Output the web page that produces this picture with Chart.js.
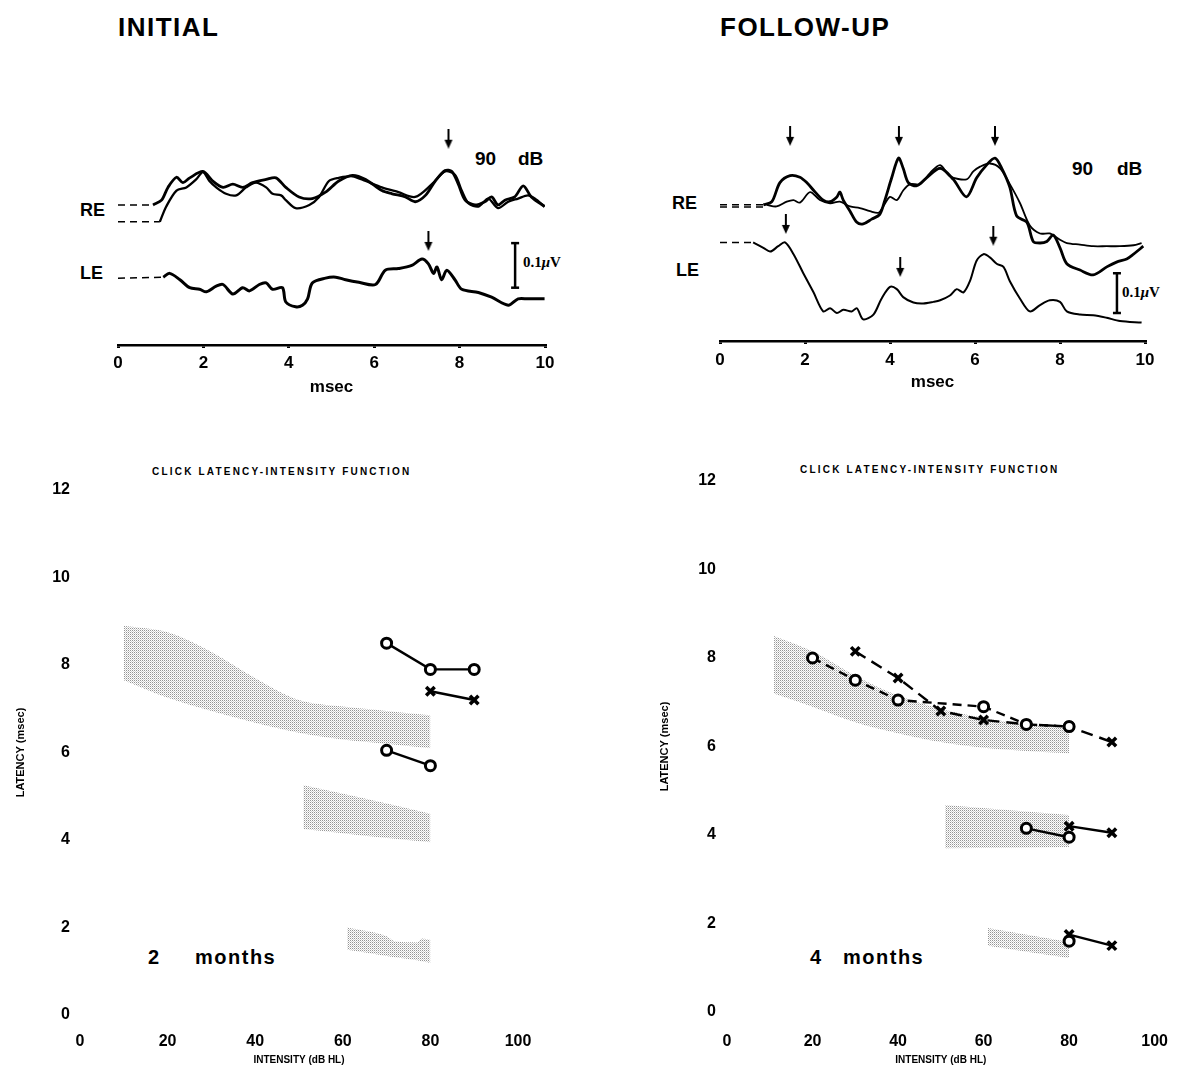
<!DOCTYPE html>
<html>
<head>
<meta charset="utf-8">
<script src="https://cdn.jsdelivr.net/npm/chart.js@4.4.0/dist/chart.umd.min.js"></script>
<style>
  body { margin: 0; width: 1188px; height: 1067px; position: relative; overflow: hidden; background: #fff;
         font-family: "Liberation Sans", Arial, sans-serif; font-weight: bold; color: #000; }
  canvas { position: absolute; }
  .t { position: absolute; white-space: pre; line-height: 1; transform: translateY(-50%); }
  .uv { font-family: "Liberation Serif", serif; font-size: 15px; }
</style>
</head>
<body>

<div class="t" style="left:118px;top:27px;font-size:26px;letter-spacing:1.5px">INITIAL</div>
<div class="t" style="left:720px;top:27px;font-size:26px;letter-spacing:1.5px">FOLLOW-UP</div>

<div class="t" style="left:475px;top:158px;font-size:19px">90</div>
<div class="t" style="left:518px;top:158px;font-size:19px">dB</div>
<div class="t" style="left:1072px;top:168px;font-size:19px">90</div>
<div class="t" style="left:1117px;top:168px;font-size:19px">dB</div>

<div class="t" style="left:80px;top:210px;font-size:18px">RE</div>
<div class="t" style="left:80px;top:273px;font-size:18px">LE</div>
<div class="t" style="left:672px;top:203px;font-size:18px">RE</div>
<div class="t" style="left:676px;top:270px;font-size:18px">LE</div>

<div class="t uv" style="left:523px;top:262px">0.1<i>μ</i>V</div>
<div class="t uv" style="left:1122px;top:292px">0.1<i>μ</i>V</div>

<div class="t" style="left:152px;top:472px;font-size:10px;letter-spacing:2.2px">CLICK LATENCY-INTENSITY FUNCTION</div>
<div class="t" style="left:800px;top:470px;font-size:10px;letter-spacing:2.2px">CLICK LATENCY-INTENSITY FUNCTION</div>

<div class="t" style="left:148px;top:957px;font-size:20px">2</div>
<div class="t" style="left:195px;top:957px;font-size:20px;letter-spacing:1.5px">months</div>
<div class="t" style="left:810px;top:957px;font-size:20px">4</div>
<div class="t" style="left:843px;top:957px;font-size:20px;letter-spacing:1.5px">months</div>

<canvas id="waveInit" width="465" height="300" style="left:100px;top:100px"></canvas>
<canvas id="waveFollow" width="465" height="300" style="left:700px;top:100px"></canvas>
<canvas id="latInit" width="560" height="617" style="left:0px;top:450px"></canvas>
<canvas id="latFollow" width="548" height="617" style="left:640px;top:450px"></canvas>

<script>
// ---- waveforms: time in msec, amplitude in arbitrary units (~1 nV) ----
// initial, right ear, trace A
const iReA_t = [0.82,1.02,1.17,1.37,1.52,1.68,1.99,2.22,2.46,2.69,2.92,3.15,3.47,3.70,3.93,4.24,4.55,4.86,5.17,5.49,5.80,6.18,6.42,6.73,6.96,7.20,7.43,7.66,7.82,7.97,8.13,8.36,8.59,8.75,8.90,9.06,9.29,9.49,9.68,9.99];
const iReA_v = [440,455,495,527,510,525,545,515,495,505,495,510,520,525,495,465,460,480,515,533,520,485,475,465,450,470,515,548,545,505,455,440,450,465,440,455,465,500,465,435];
// initial, right ear, trace B
const iReB_t = [0.98,1.13,1.37,1.60,1.83,1.99,2.14,2.30,2.53,2.77,3.00,3.23,3.47,3.62,3.82,3.93,4.16,4.48,4.71,4.94,5.17,5.49,5.80,6.18,6.57,6.96,7.35,7.66,7.89,8.05,8.21,8.44,8.67,8.90,9.14,9.37,9.60,9.76,9.99];
const iReB_v = [387,435,485,495,520,543,515,495,475,470,495,510,495,475,470,455,430,440,465,515,525,530,515,495,480,465,505,545,535,485,445,435,460,430,450,460,470,460,435];
// initial, left ear
const iLe_t = [1.06,1.21,1.45,1.68,1.91,2.07,2.30,2.46,2.69,2.92,3.08,3.31,3.47,3.62,3.85,3.93,4.16,4.32,4.44,4.55,4.86,5.10,5.33,5.64,6.03,6.26,6.57,6.88,7.12,7.27,7.39,7.47,7.58,7.70,7.89,8.05,8.44,8.75,9.14,9.37,9.60,9.99];
const iLe_v = [213,225,205,180,175,167,185,190,160,180,170,190,195,175,180,135,120,125,145,195,210,213,205,197,190,235,240,250,270,255,225,245,205,235,205,175,165,150,125,145,145,145];
const iBase_t = [0, 0.82, 0, 0.98, 0, 1.06];          // pre-stimulus dashed baselines (start/end)
const iBase_v = [440, 440, 387, 387, 210, 213];
const iArrow_t = [7.74, 7.27];
const iArrow_v = [648, 327];
const iBar_t = [9.3, 9.3];
const iBar_v = [180, 320];

// follow-up, right ear, trace C (thick)
const fReC_t = [1.02,1.22,1.41,1.65,1.88,2.04,2.24,2.43,2.59,2.75,2.82,2.90,3.06,3.22,3.37,3.57,3.76,3.88,4.04,4.20,4.31,4.43,4.63,4.86,5.18,5.49,5.80,6.04,6.27,6.47,6.63,6.82,6.98,7.22,7.37,7.53,7.69,7.84,8.00,8.16,8.47,8.78,9.10,9.33,9.57,9.73,9.96];
const fReC_v = [428,438,498,520,515,498,468,443,438,453,468,443,408,373,368,383,398,443,513,575,543,498,488,513,543,508,453,513,553,575,543,483,393,373,313,308,313,333,293,243,223,208,233,248,258,273,298];
// follow-up, right ear, trace D (thin)
const fReD_t = [1.10,1.33,1.57,1.73,1.88,2.12,2.35,2.59,2.82,3.06,3.29,3.53,3.73,3.84,4.00,4.16,4.31,4.47,4.71,4.94,5.18,5.41,5.80,5.96,6.12,6.35,6.59,6.82,7.06,7.29,7.53,7.76,8.00,8.16,8.47,8.78,9.10,9.41,9.73,9.92];
const fReD_v = [428,423,438,443,435,468,443,433,438,423,418,408,403,423,453,443,473,493,493,528,553,518,508,533,548,558,543,493,433,363,338,338,318,308,303,298,298,298,301,308];
// follow-up, left ear
const fLe_t = [0.78,1.02,1.18,1.37,1.53,1.73,1.96,2.20,2.43,2.59,2.75,2.90,3.10,3.22,3.37,3.61,3.80,4.00,4.16,4.31,4.55,4.78,5.02,5.18,5.41,5.57,5.73,5.88,6.04,6.20,6.35,6.51,6.67,6.82,7.06,7.29,7.53,7.76,8.00,8.16,8.47,8.78,9.10,9.41,9.92];
const fLe_v = [310,293,281,298,310,273,213,153,93,103,88,98,93,103,68,83,133,170,163,138,121,118,123,128,143,163,153,188,253,273,263,243,233,188,133,93,113,128,123,93,83,81,73,63,58];
const fBase_t = [0, 1.02, 0, 1.10, 0, 0.78];
const fBase_v = [428, 428, 421, 421, 310, 310];
const fArrow_t = [1.65, 4.21, 6.47, 1.55, 4.24, 6.43];
const fArrow_v = [645, 645, 645, 368, 233, 331];
const fBar_t = [9.34, 9.34];
const fBar_v = [88, 213];

// ---- latency-intensity functions (dB HL vs msec) ----
const iCircHi_x = [70, 80, 90], iCircHi_y = [8.5, 7.9, 7.9];
const iCrossHi_x = [80, 90],    iCrossHi_y = [7.4, 7.2];
const iCircLo_x = [70, 80],     iCircLo_y = [6.05, 5.7];
// normal ranges (shaded)
const iBandV_x = [10, 20, 30, 40, 50, 60, 70, 80];
const iBandV_hi = [8.9, 8.75, 8.3, 7.7, 7.2, 7.05, 6.95, 6.85];
const iBandV_lo = [7.65, 7.25, 6.95, 6.68, 6.45, 6.3, 6.2, 6.1];
const iBandIII_x = [51, 65, 80];
const iBandIII_hi = [5.25, 4.95, 4.6];
const iBandIII_lo = [4.25, 4.1, 3.95];
const iBandI_x = [61, 70, 72, 77, 78, 80];
const iBandI_hi = [2.0, 1.8, 1.68, 1.66, 1.75, 1.72];
const iBandI_lo = [1.49, 1.35, 1.32, 1.25, 1.23, 1.19];

const fCircV_x = [20, 30, 40, 60, 70, 80],      fCircV_y = [8.0, 7.5, 7.05, 6.9, 6.5, 6.45];
const fCrossV_x = [30, 40, 50, 60, 70, 80, 90], fCrossV_y = [8.15, 7.55, 6.8, 6.6, 6.5, 6.45, 6.1];
const fCircIII_x = [70, 80],  fCircIII_y = [4.15, 3.95];
const fCrossIII_x = [80, 90], fCrossIII_y = [4.2, 4.05];
const fCircI_x = [80],        fCircI_y = [1.6];
const fCrossI_x = [80, 90],   fCrossI_y = [1.75, 1.5];
const fBandV_x = [11, 20, 30, 40, 50, 60, 70, 80];
const fBandV_hi = [8.5, 8.15, 7.6, 7.15, 6.85, 6.65, 6.5, 6.42];
const fBandV_lo = [7.2, 6.9, 6.55, 6.3, 6.1, 5.97, 5.9, 5.85];
const fBandIII_x = [51, 80];
const fBandIII_hi = [4.68, 4.45];
const fBandIII_lo = [3.7, 3.73];
const fBandI_x = [61, 80];
const fBandI_hi = [1.9, 1.58];
const fBandI_lo = [1.5, 1.22];

const FONT = "'Liberation Sans', Arial, sans-serif";
const pts = (xs, ys) => xs.map((x, i) => ({ x, y: ys[i] }));

function arrowImg() {
  const c = document.createElement("canvas");
  c.width = 10; c.height = 20;
  const g = c.getContext("2d");
  g.strokeStyle = "#000"; g.lineWidth = 2;
  g.beginPath(); g.moveTo(5, 0); g.lineTo(5, 13); g.stroke();
  g.fillStyle = "#000";
  g.beginPath(); g.moveTo(1, 11); g.lineTo(9, 11); g.lineTo(5, 20); g.closePath(); g.fill();
  return c;
}
const ARROW = arrowImg();

function stipple() {
  const c = document.createElement("canvas");
  c.width = 2; c.height = 2;
  const g = c.getContext("2d");
  g.fillStyle = "#fff"; g.fillRect(0, 0, 2, 2);
  g.fillStyle = "#949494"; g.fillRect(0, 0, 1, 1);
  g.fillStyle = "#d0d0d0"; g.fillRect(1, 1, 1, 1);
  return g.createPattern(c, "repeat");
}
const DOTS = stipple();

function trace(t, v, width) {
  return { data: pts(t, v), borderColor: "#000", borderWidth: width, pointRadius: 0, tension: 0.3, fill: false };
}
function baselines(t, v) {
  const out = [];
  for (let i = 0; i < t.length; i += 2) {
    out.push({ data: pts(t.slice(i, i + 2), v.slice(i, i + 2)), borderColor: "#000", borderWidth: 1.5,
               borderDash: [7, 5], pointRadius: 0, fill: false });
  }
  return out;
}
function arrows(t, v) {
  return { data: pts(t, v), showLine: false, pointStyle: ARROW, pointRadius: 10 };
}
function scaleBar(t, v) {
  return { data: pts(t, v), borderColor: "#000", borderWidth: 2.5, pointStyle: "line", pointRadius: 4,
           pointBorderWidth: 2.5, pointBorderColor: "#000", fill: false };
}

function waveChart(id, datasets, yMax, tickPad, titlePad, axisH) {
  return new Chart(document.getElementById(id), {
    type: "line",
    data: { datasets },
    options: {
      responsive: false, animation: false, events: [],
      layout: { padding: { left: id === "waveInit" ? 18 : 20, right: 20, top: 0, bottom: 0 } },
      plugins: { legend: { display: false }, tooltip: { enabled: false } },
      scales: {
        x: {
          type: "linear", min: 0, max: 10,
          afterFit: s => { s.height = axisH; },
          border: { display: true, color: "#000", width: 2.5 },
          grid: { drawOnChartArea: false, drawTicks: true, tickLength: 3, color: "#000", lineWidth: 3 },
          ticks: { stepSize: 2, padding: tickPad, color: "#000", font: { family: FONT, size: 17, weight: "bold" } },
          title: { display: true, text: "msec", color: "#000", padding: { top: 0, bottom: titlePad },
                   font: { family: FONT, size: 17, weight: "bold" } }
        },
        y: { display: false, min: 0, max: yMax }
      }
    }
  });
}

waveChart("waveInit", [
  trace(iReA_t, iReA_v, 2.8),
  trace(iReB_t, iReB_v, 2.3),
  trace(iLe_t, iLe_v, 3),
  ...baselines(iBase_t, iBase_v),
  arrows(iArrow_t, iArrow_v),
  scaleBar(iBar_t, iBar_v)
], 735, 5, 2, 55);

waveChart("waveFollow", [
  trace(fReC_t, fReC_v, 2.8),
  trace(fReD_t, fReD_v, 1.8),
  trace(fLe_t, fLe_v, 2),
  ...baselines(fBase_t, fBase_v),
  arrows(fArrow_t, fArrow_v),
  scaleBar(fBar_t, fBar_v)
], 723, 6, 7, 59);

function band(xs, hi, lo) {
  return [
    { data: pts(xs, hi), borderWidth: 0, pointRadius: 0, fill: false, order: 5, cubicInterpolationMode: "monotone" },
    { data: pts(xs, lo), borderWidth: 0, pointRadius: 0, fill: "-1", backgroundColor: DOTS, order: 5, cubicInterpolationMode: "monotone" }
  ];
}
function circles(xs, ys, dash) {
  return { data: pts(xs, ys), borderColor: "#000", borderWidth: 2.4, borderDash: dash || [],
           pointStyle: "circle", pointRadius: 5, pointBorderWidth: 3,
           pointBackgroundColor: "#fff", pointBorderColor: "#000", fill: false, order: 1 };
}
function crosses(xs, ys, dash) {
  return { data: pts(xs, ys), borderColor: "#000", borderWidth: 2.4, borderDash: dash || [],
           pointStyle: "crossRot", pointRadius: 6, pointBorderWidth: 3.5,
           pointBorderColor: "#000", fill: false, order: 1 };
}

function latChart(id, datasets, yW, yTickPad, yTitlePad, padR, padT, xH, xTickPad) {
  return new Chart(document.getElementById(id), {
    type: "line",
    data: { datasets },
    options: {
      responsive: false, animation: false, events: [],
      layout: { padding: { left: 0, right: padR, top: padT, bottom: 0 } },
      plugins: { legend: { display: false }, tooltip: { enabled: false } },
      scales: {
        x: {
          type: "linear", min: 0, max: 100,
          afterFit: s => { s.height = xH; },
          border: { display: false }, grid: { display: false, drawTicks: false },
          ticks: { stepSize: 20, padding: xTickPad, color: "#000", font: { family: FONT, size: 16, weight: "bold" } },
          title: { display: true, text: "INTENSITY (dB HL)", color: "#000", padding: { top: 0, bottom: 1 },
                   font: { family: FONT, size: 10, weight: "bold" } }
        },
        y: {
          min: 0, max: 12,
          afterFit: s => { s.width = yW; },
          border: { display: false }, grid: { display: false, drawTicks: false },
          ticks: { stepSize: 2, padding: yTickPad, color: "#000", font: { family: FONT, size: 16, weight: "bold" } },
          title: { display: true, text: "LATENCY (msec)", color: "#000", padding: { top: yTitlePad, bottom: 0 },
                   font: { family: FONT, size: 11, weight: "bold" } }
        }
      }
    }
  });
}

latChart("latInit", [
  circles(iCircHi_x, iCircHi_y),
  crosses(iCrossHi_x, iCrossHi_y),
  circles(iCircLo_x, iCircLo_y),
  ...band(iBandV_x, iBandV_hi, iBandV_lo),
  ...band(iBandIII_x, iBandIII_hi, iBandIII_lo),
  ...band(iBandI_x, iBandI_hi, iBandI_lo)
], 80, 10, 14, 42, 40, 52, 17);

latChart("latFollow", [
  circles(fCircV_x, fCircV_y, [9, 6]),
  crosses(fCrossV_x, fCrossV_y, [12, 7]),
  circles(fCircIII_x, fCircIII_y),
  crosses(fCrossIII_x, fCrossIII_y),
  circles(fCircI_x, fCircI_y),
  crosses(fCrossI_x, fCrossI_y),
  ...band(fBandV_x, fBandV_hi, fBandV_lo),
  ...band(fBandIII_x, fBandIII_hi, fBandIII_lo),
  ...band(fBandI_x, fBandI_hi, fBandI_lo)
], 87, 11, 18, 33, 31, 55, 20);
</script>
</body>
</html>
